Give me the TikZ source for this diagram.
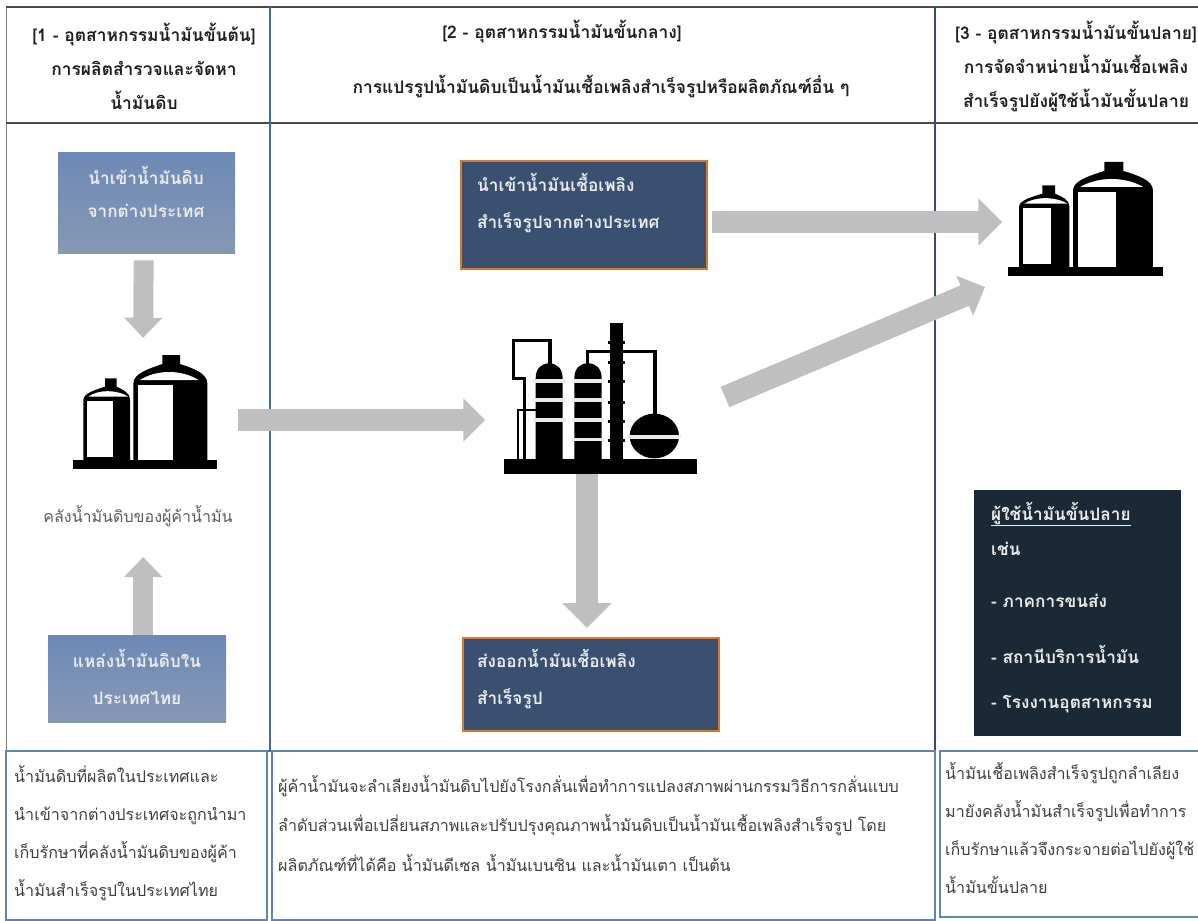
\documentclass[tikz,border=0pt]{standalone}
\usepackage{fontspec}
\usetikzlibrary{arrows.meta}
\newfontfamily\thaifont[Script=Thai]{Loma}
\definecolor{gridblue}{HTML}{3F6DA8}
\definecolor{gridnavy}{HTML}{2F4A85}
\definecolor{gridgray}{HTML}{4A4A4A}
\definecolor{cellblue}{HTML}{5E84BA}
\definecolor{arrowgray}{HTML}{BFBFBF}
\definecolor{lightboxA}{HTML}{6E89B6}
\definecolor{lightboxB}{HTML}{8698B4}
\definecolor{navybox}{HTML}{3A5070}
\definecolor{darkbox}{HTML}{1B2937}
\definecolor{orangeline}{HTML}{D9792F}
\definecolor{bodytext}{HTML}{3F3F3F}
\tikzset{
  headtext/.style={inner sep=0pt,align=center,text=black!88,font=\thaifont\bfseries\fontsize{17.4}{34}\selectfont},
  boxlight/.style={draw=none,top color=lightboxA,bottom color=lightboxB,inner sep=0pt,anchor=north west},
  boxnavy/.style={draw=orangeline,line width=1.6pt,fill=navybox,inner sep=0pt,anchor=north west},
  boxtext/.style={inner sep=0pt,text=white!92!black,font=\thaifont\bfseries\fontsize{17.2}{36.5}\selectfont},
  celltext/.style={inner sep=0pt,anchor=north west,align=left,text=bodytext,font=\thaifont\fontsize{16.1}{38}\selectfont},
  blockarrow/.style={draw=arrowgray,line width=22pt},
  cellrule/.style={draw=cellblue,line width=1.4pt},
  tankicon/.pic={
    \fill[black] (400,362) -- (400,130) .. controls (400,100) and (450,85) .. (487,72) -- (487,45) -- (540,45) -- (540,72) .. controls (580,85) and (622,100) .. (622,130) -- (622,362) -- cycle;
    \fill[white] (415,135) rectangle (520,362);
    \fill[white] (420,120) .. controls (470,88) and (545,88) .. (595,120) -- cycle;
    \fill[black] (250,362) -- (250,180) .. controls (250,160) and (285,150) .. (315,140) -- (315,115) -- (350,115) -- (350,140) .. controls (365,148) and (390,155) .. (390,180) -- (390,362) -- cycle;
    \fill[white] (262,182) rectangle (338,350);
    \fill[white] (265,170) .. controls (295,148) and (350,148) .. (385,170) -- cycle;
    \fill[black] (220,360) rectangle (650,387);
  },
  refineryicon/.pic={
    \draw[black,line width=3.4pt] (210,165) -- (210,92) -- (100,92) -- (100,205) -- (133,205) -- (133,450);
    \draw[black,line width=1.8pt] (115,450) -- (115,300) -- (170,300);
    \draw[black,line width=3.4pt] (322,165) -- (322,125) -- (525,125) -- (525,315);
    \fill[black] (167,447) -- (167,205) .. controls (167,175) and (185,160) .. (207,160) .. controls (230,160) and (248,175) .. (248,205) -- (248,447) -- cycle;
    \fill[black] (283,447) -- (283,205) .. controls (283,175) and (300,160) .. (324,160) .. controls (348,160) and (365,175) .. (365,205) -- (365,447) -- cycle;
    \fill[black] (390,38) rectangle (428,447);
    \foreach \yy in {98,158,215,277,335,392}{\fill[black] (384,\yy-4) rectangle (434,\yy+4);}
    \fill[black] (523,378) ellipse [x radius=74,y radius=67];
    \foreach \yy in {213,270,330}{\fill[white!92!black] (158,\yy-5) rectangle (258,\yy+5);}
    \foreach \yy in {213,270,330,388}{\fill[white!92!black] (275,\yy-5) rectangle (372,\yy+5);}
    \fill[white!92!black] (443,375) rectangle (603,387);
    \fill[black] (72,447) rectangle (650,493);
  },
}
\begin{document}
\begin{tikzpicture}[x=1pt,y=-1pt]
\useasboundingbox (0,0) rectangle (1198,920);
\fill[white] (0,0) rectangle (1198,920);

% frame of the table
\draw[gridgray!70,line width=1pt] (6,7) -- (6,750);
\draw[gridgray,line width=1.8pt] (6,7) -- (1198,7);
\draw[gridgray,line width=1.8pt] (6,123) -- (1198,123);
\draw[gridblue,line width=2.6pt] (270,7) -- (270,750);
\draw[gridnavy,line width=1.4pt] (935,7) -- (935,750);
\draw[gridblue,line width=2.6pt] (6,751) -- (935,751);
\draw[cellrule] (6,751) rectangle (267,920);
\draw[cellrule] (272,751) rectangle (935,920);
\draw[cellrule] (940,751) rectangle (1199,917);

% headers
\node[headtext] (headA) at (144,66) {[1 - อุตสาหกรรมน้ำมันขั้นต้น]\\การผลิตสำรวจและจัดหา\\น้ำมันดิบ};
\node[headtext] (headB1) at (562,32) {[2 - อุตสาหกรรมน้ำมันขั้นกลาง]};
\node[headtext] (headB2) at (601,86) {การแปรรูปน้ำมันดิบเป็นน้ำมันเชื้อเพลิงสำเร็จรูปหรือผลิตภัณฑ์อื่น ๆ};
\node[headtext] (headC) at (1076,66) {[3 - อุตสาหกรรมน้ำมันขั้นปลาย]\\การจัดจำหน่ายน้ำมันเชื้อเพลิง\\สำเร็จรูปยังผู้ใช้น้ำมันขั้นปลาย};

% icon frames
\node[inner sep=0pt,minimum width=144pt,minimum height=113pt] (tankL) at (145,411.5) {};
\node[inner sep=0pt,minimum width=155pt,minimum height=114pt] (tankR) at (1086,219) {};
\node[inner sep=0pt,minimum width=193pt,minimum height=152pt] (refinery) at (600,396) {};

% boxes
\node[boxlight,minimum width=177pt,minimum height=101pt] (importcrude) at (58,152) {};
\node[boxlight,minimum width=178pt,minimum height=87pt] (localcrude) at (48,635) {};
\node[boxnavy,minimum width=246pt,minimum height=108pt] (importfuel) at (460,160) {};
\node[boxnavy,minimum width=256pt,minimum height=93pt] (exportfuel) at (462,637) {};
\node[draw=none,fill=darkbox,inner sep=0pt,anchor=north west,minimum width=207pt,minimum height=246pt] (users) at (974,490) {};

\coordinate (downx) at (587,0);
\draw[blockarrow,line width=20pt,-{Triangle[length=20pt,width=37pt]},shorten <=7pt,shorten >=17pt] ([xshift=-3pt]importcrude.south) -- ([xshift=-2pt]tankL.north);
\draw[blockarrow,line width=20pt,-{Triangle[length=20pt,width=37pt]}] ([xshift=6pt]localcrude.north) -- ([xshift=6pt,yshift=78pt]localcrude.north);
\draw[blockarrow,-{Triangle[length=22pt,width=42pt]},shorten <=21pt,shorten >=18pt] (tankL.east |- 0,420) -- (refinery.west |- 0,420);
\draw[blockarrow,-{Triangle[length=24pt,width=46pt]},shorten <=4pt,shorten >=6pt] (importfuel.east |- 0,222) -- (tankR.west |- 0,222);
\coordinate (diagfrom) at (725,397);
\coordinate (diagto) at (985,287);
\draw[blockarrow,-{Triangle[length=22pt,width=42pt]}] (diagfrom) -- (diagto);
\draw[blockarrow,-{Triangle[length=25pt,width=48pt]},shorten >=9pt] (downx |- refinery.south) -- (downx |- exportfuel.north);

% icons
\pic[xscale=1/3,yscale=1/3] at (0,340) {tankicon};
\pic[xscale=0.36,yscale=1/3] at (929,147) {tankicon};
\pic[xscale=1/3,yscale=1/3] at (480,310) {refineryicon};

% box texts
\node[boxtext,align=center,anchor=center,font=\thaifont\bfseries\fontsize{17.2}{33}\selectfont] (importcruteT) at (146,192) {นำเข้าน้ำมันดิบ\\จากต่างประเทศ};
\node[boxtext,align=center,anchor=center] (localcrudeT) at (137,677) {แหล่งน้ำมันดิบใน\\ประเทศไทย};
\node[boxtext,align=left,anchor=north west] (importfuelT) at (477,173.5) {นำเข้าน้ำมันเชื้อเพลิง\\สำเร็จรูปจากต่างประเทศ};
\node[boxtext,align=left,anchor=north west] (exportfuelT) at (477,649.5) {ส่งออกน้ำมันเชื้อเพลิง\\สำเร็จรูป};
\node[boxtext,anchor=west] (usersT1) at (991,514) {\underline{ผู้ใช้น้ำมันขั้นปลาย}};
\node[boxtext,anchor=west] (usersT2) at (991,549) {เช่น};
\node[boxtext,anchor=west] (usersT3) at (991,601) {- ภาคการขนส่ง};
\node[boxtext,anchor=west] (usersT4) at (991,654) {- สถานีบริการน้ำมัน};
\node[boxtext,anchor=west] (usersT5) at (991,704) {- โรงงานอุตสาหกรรม};

\node[inner sep=0pt,text=bodytext!85,font=\thaifont\fontsize{16}{18}\selectfont] (tankLabel) at (138,516) {คลังน้ำมันดิบของผู้ค้าน้ำมัน};

% bottom notes
\node[celltext] (noteA) at (14,765.5) {น้ำมันดิบที่ผลิตในประเทศและ\\นำเข้าจากต่างประเทศจะถูกนำมา\\เก็บรักษาที่คลังน้ำมันดิบของผู้ค้า\\น้ำมันสำเร็จรูปในประเทศไทย};
\node[celltext,font=\thaifont\fontsize{16.1}{39.5}\selectfont] (noteB) at (278,775) {ผู้ค้าน้ำมันจะลำเลียงน้ำมันดิบไปยังโรงกลั่นเพื่อทำการแปลงสภาพผ่านกรรมวิธีการกลั่นแบบ\\ลำดับส่วนเพื่อเปลี่ยนสภาพและปรับปรุงคุณภาพน้ำมันดิบเป็นน้ำมันเชื้อเพลิงสำเร็จรูป โดย\\ผลิตภัณฑ์ที่ได้คือ น้ำมันดีเซล น้ำมันเบนซิน และน้ำมันเตา เป็นต้น};
\node[celltext] (noteC) at (945,762) {น้ำมันเชื้อเพลิงสำเร็จรูปถูกลำเลียง\\มายังคลังน้ำมันสำเร็จรูปเพื่อทำการ\\เก็บรักษาแล้วจึงกระจายต่อไปยังผู้ใช้\\น้ำมันขั้นปลาย};
\end{tikzpicture}
\end{document}
